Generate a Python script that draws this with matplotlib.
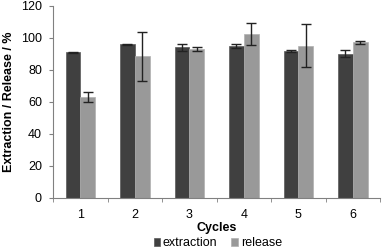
import numpy as np
import matplotlib
matplotlib.use('Agg')
import matplotlib.pyplot as plt

plt.rcParams['font.family'] = ['Liberation Sans', 'DejaVu Sans']

# data
cycles = ['1', '2', '3', '4', '5', '6']
extraction = [91.0, 96.2, 94.2, 95.0, 91.9, 90.2]
extraction_err = [0.4, 0.3, 2.2, 1.5, 0.5, 2.0]
release = [63.0, 88.5, 93.1, 102.7, 95.2, 97.3]
release_err = [3.0, 15.5, 1.0, 6.8, 13.5, 0.8]

fig = plt.figure(figsize=(3.82, 2.5), dpi=100)
ax = fig.add_axes([0.139, 0.208, 0.856, 0.768])

x = np.arange(1, len(cycles) + 1)
w = 0.27
err_kw = dict(ecolor='#222222', elinewidth=1.0, capsize=3.5, capthick=1.0)
ax.bar(x - w / 2, extraction, w, yerr=extraction_err, color='#404040',
       edgecolor='#5a5a5a', linewidth=0.5, label='extraction', error_kw=err_kw)
ax.bar(x + w / 2, release, w, yerr=release_err, color='#999999',
       edgecolor='#b0b0b0', linewidth=0.5, label='release', error_kw=err_kw)

ax.set_xlim(0.5, 6.5)
ax.set_ylim(0, 120)
ax.set_yticks(range(0, 121, 20))
ax.set_xticks(x)
ax.set_xticklabels(cycles)
ax.set_xticks(np.arange(0.5, 6.6, 1), minor=True)
ax.tick_params(axis='x', which='major', length=0, labelsize=9, pad=8)
ax.tick_params(axis='x', which='minor', length=3, color='#808080')
ax.tick_params(axis='y', length=3, color='#808080', labelsize=9, pad=5)

for s in ['top', 'right']:
    ax.spines[s].set_visible(False)
for s in ['left', 'bottom']:
    ax.spines[s].set_color('#808080')
    ax.spines[s].set_linewidth(0.8)

ax.set_xlabel('Cycles', fontsize=9, fontweight='bold', labelpad=1)
ax.set_ylabel('Extraction / Release / %', fontsize=9, fontweight='bold', labelpad=4)

fig.legend(loc='center', bbox_to_anchor=(0.57, 0.027), ncol=2, frameon=False,
           fontsize=9, handlelength=0.55, handleheight=0.55, handletextpad=0.2,
           columnspacing=1.1, borderaxespad=0, borderpad=0)

fig.savefig('out.png', dpi=100)
